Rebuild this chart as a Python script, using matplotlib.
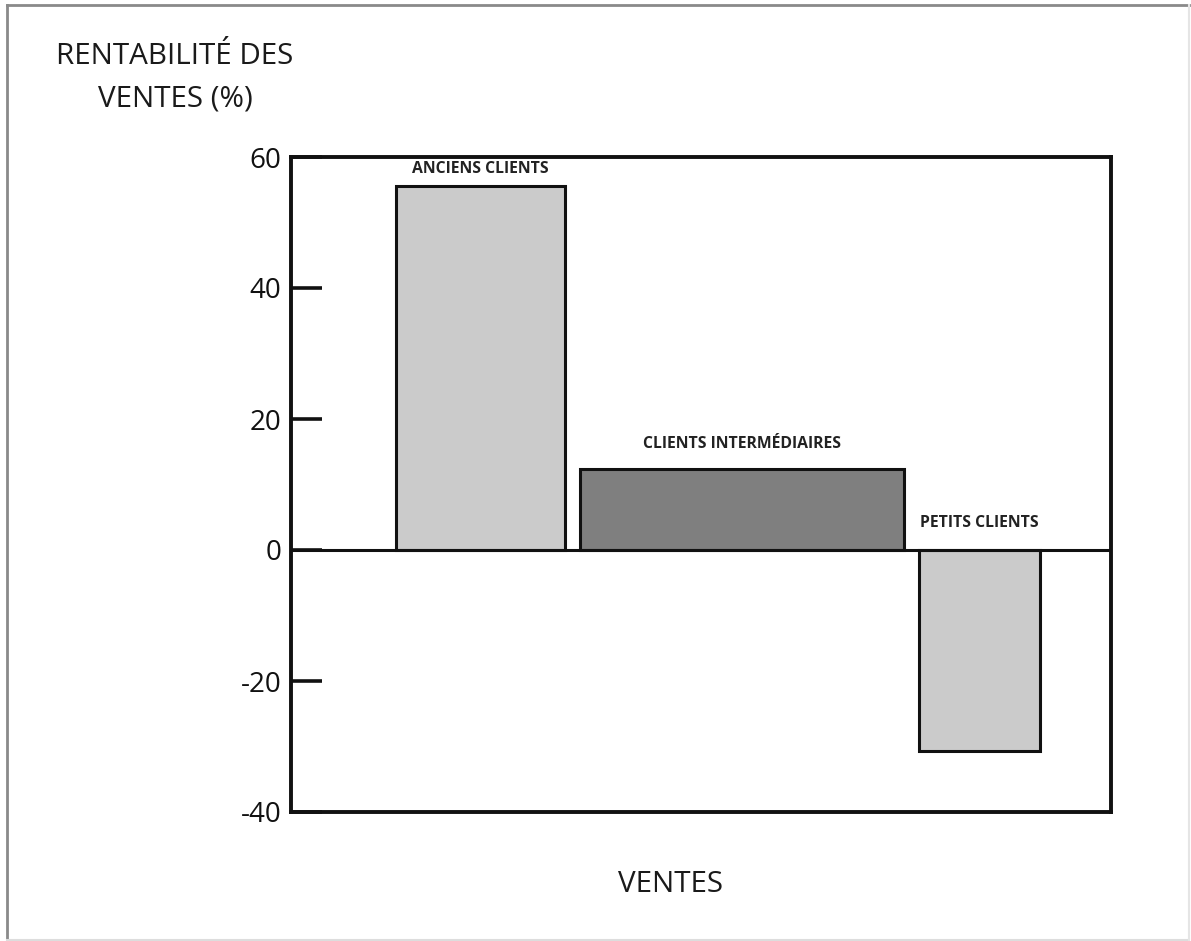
import matplotlib
matplotlib.use("Agg")
import matplotlib.pyplot as plt
from matplotlib.lines import Line2D

# Data
categories = ["ANCIENS CLIENTS", "CLIENTS INTERMÉDIAIRES", "PETITS CLIENTS"]
profitability = [55.5, 12.3, -30.7]        # % rentabilité des ventes
sales_share = [20.6, 39.6, 14.8]           # bar widths (ventes)
yticks = [60, 40, 20, 0, -20, -40]
ytick_labels = ["60", "40", "20", "0", "-20", "-40"]
bar_colors = ["#cbcbcb", "#7f7f7f", "#cbcbcb"]

FONT = ["Open Sans", "DejaVu Sans"]
plt.rcParams['font.family'] = FONT

W, H = 1191, 941
fig = plt.figure(figsize=(W / 100, H / 100), dpi=100)
ax = fig.add_axes([291 / W, 1 - 812 / H, (1111 - 291) / W, (812 - 157) / H])

start = 12.8
gap = 1.8
lefts = []
x = start
for w in sales_share:
    lefts.append(x)
    x += w + gap

for left, w, h, c in zip(lefts, sales_share, profitability, bar_colors):
    ax.bar(left, h, width=w, align='edge', color=c, edgecolor='#111111', linewidth=2.2, zorder=2)

# category labels
label_y = [57.0, 15.0, 2.9]
for left, w, ly, name in zip(lefts, sales_share, label_y, categories):
    ax.text(left + w / 2, ly, name, ha='center', va='bottom',
            fontsize=11.3, fontweight='bold', color='#222222')

ax.axhline(0, color='#111111', linewidth=2.2, zorder=3)

ax.set_xlim(0, 100)
ax.set_ylim(-40, 60)
ax.set_xticks([])
ax.set_yticks(yticks)
ax.set_yticklabels(ytick_labels, fontsize=20, fontweight='medium')
ax.tick_params(axis='y', direction='in', length=22, width=2.6, pad=7, colors='#111111')
for s in ax.spines.values():
    s.set_linewidth(2.8)
    s.set_color('#111111')

# axis titles
fig.text(175 / W, 1 - 78 / H, "RENTABILITÉ DES\nVENTES (%)", ha='center', va='center',
         fontsize=21.3, fontweight='medium', linespacing=1.62, color='#1a1a1a')
fig.text(670 / W, 1 - 885 / H, "VENTES", ha='center', va='center', fontsize=21.3,
         fontweight='medium', color='#1a1a1a')

# outer frame
fig.add_artist(Line2D([7 / W, 1189 / W], [1 - 4.5 / H, 1 - 4.5 / H], color='#8a8a8a', linewidth=2, transform=fig.transFigure))
fig.add_artist(Line2D([7 / W, 7 / W], [1 - 4.5 / H, 1 - 939.5 / H], color='#8a8a8a', linewidth=2, transform=fig.transFigure))
fig.add_artist(Line2D([7 / W, 1189 / W], [1 - 939.5 / H, 1 - 939.5 / H], color='#dddddd', linewidth=1.5, transform=fig.transFigure))
fig.add_artist(Line2D([1189 / W, 1189 / W], [1 - 4.5 / H, 1 - 939.5 / H], color='#e5e5e5', linewidth=1.5, transform=fig.transFigure))

fig.savefig("out.png", dpi=100)
